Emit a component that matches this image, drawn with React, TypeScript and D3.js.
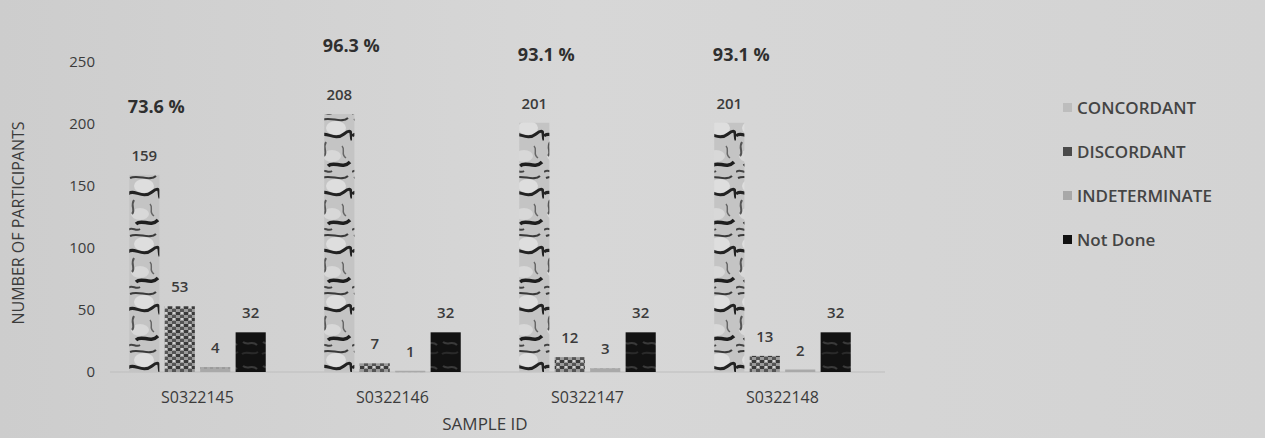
import React from "react";
import * as d3 from "d3";

const samples = ["S0322145", "S0322146", "S0322147", "S0322148"];
const seriesNames = ["CONCORDANT", "DISCORDANT", "INDETERMINATE", "Not Done"];
const concordant = [159, 208, 201, 201];
const discordant = [53, 7, 12, 13];
const indeterminate = [4, 1, 3, 2];
const notDone = [32, 32, 32, 32];
const percentLabels = ["73.6 %", "96.3 %", "93.1 %", "93.1 %"];
const yTicks = [0, 50, 100, 150, 200, 250];

const W = 1265;
const H = 438;
const FONT = "'Open Sans', Lato, sans-serif";
const TEXT = "#3b3b3b";

const fills = ["url(#pConc)", "url(#pDisc)", "url(#pInd)", "url(#pNd)"];
const legendMarks = ["#bdbdbd", "#4a4a4a", "#a8a8a8", "#111111"];

export default function App() {
  const series = [concordant, discordant, indeterminate, notDone];
  const x0 = d3.scaleBand<string>().domain(samples).range([100, 880]).paddingInner(0.3).paddingOuter(0.15);
  const x1 = d3.scaleBand<string>().domain(seriesNames).range([0, x0.bandwidth()]).paddingInner(0.15);
  const y = d3.scaleLinear().domain([0, 250]).range([372, 62]);

  return (
    <svg width={W} height={H} style={{ position: "absolute", left: 0, top: 0 }} fontFamily={FONT}>
      <defs>
        <linearGradient id="bg" x1="0" x2="1" y1="0" y2="0">
          <stop offset="0" stopColor="#cdcdcd" />
          <stop offset="0.45" stopColor="#d7d7d7" />
          <stop offset="1" stopColor="#d3d3d3" />
        </linearGradient>
        <pattern id="pConc" width="32" height="58" patternUnits="userSpaceOnUse">
          <rect width="32" height="58" fill="#c4c4c4" />
          <ellipse cx="16" cy="12" rx="10" ry="7" fill="#dedede" />
          <ellipse cx="12" cy="40" rx="9" ry="6" fill="#d8d8d8" />
          <path d="M2 4 C10 0 22 8 28 2" stroke="#3a3a3a" strokeWidth="2" fill="none" />
          <path d="M0 20 C6 14 14 26 24 18 S30 22 32 24" stroke="#222" strokeWidth="3" fill="none" />
          <path d="M6 26 C2 32 8 36 4 40" stroke="#555" strokeWidth="2" fill="none" />
          <path d="M8 50 C14 44 22 54 30 46" stroke="#1e1e1e" strokeWidth="3.5" fill="none" />
          <path d="M22 30 C26 34 20 38 26 42" stroke="#666" strokeWidth="1.5" fill="none" />
          <path d="M0 56 C4 52 8 58 12 55" stroke="#444" strokeWidth="2" fill="none" />
        </pattern>
        <pattern id="pDisc" width="8" height="6" patternUnits="userSpaceOnUse">
          <rect width="8" height="6" fill="#9a9a9a" />
          <rect x="0" y="0" width="4" height="3" fill="#3a3a3a" />
          <rect x="4" y="3" width="4" height="3" fill="#555" />
          <rect x="5" y="0" width="2" height="2" fill="#d0d0d0" />
        </pattern>
        <pattern id="pInd" width="6" height="6" patternUnits="userSpaceOnUse">
          <rect width="6" height="6" fill="#a9a9a9" />
          <rect width="3" height="3" fill="#9a9a9a" />
        </pattern>
        <pattern id="pNd" width="20" height="24" patternUnits="userSpaceOnUse">
          <rect width="20" height="24" fill="#121212" />
          <path d="M3 6 C8 10 12 4 17 9" stroke="#3a3a3a" strokeWidth="2" fill="none" />
          <path d="M2 18 C7 14 12 20 18 16" stroke="#2a2a2a" strokeWidth="2" fill="none" />
        </pattern>
      </defs>
      <rect width={W} height={H} fill="url(#bg)" />

      {yTicks.map((t) => (
        <text key={t} x={95} y={y(t)} dy="0.35em" textAnchor="end" fontSize={15} fill={TEXT}>
          {t}
        </text>
      ))}
      <text
        transform={`translate(24, ${(y(0) + y(250)) / 2 + 6}) rotate(-90)`}
        textAnchor="middle"
        fontSize={16}
        fill={TEXT}
      >
        NUMBER OF PARTICIPANTS
      </text>

      <line x1={110} x2={885} y1={y(0)} y2={y(0)} stroke="#bdbdbd" strokeWidth={1.2} />

      {samples.map((s, gi) => {
        const gx = x0(s) as number;
        const concX = gx + (x1(seriesNames[0]) as number) + x1.bandwidth() / 2;
        return (
          <g key={s}>
            {series.map((vals, si) => {
              const bx = gx + (x1(seriesNames[si]) as number);
              const v = vals[gi];
              return (
                <g key={si}>
                  <rect
                    x={bx}
                    y={y(v)}
                    width={x1.bandwidth()}
                    height={Math.max(y(0) - y(v), 1.5)}
                    fill={fills[si]}
                  />
                  <text
                    x={bx + x1.bandwidth() / 2}
                    y={y(v) - 14}
                    textAnchor="middle"
                    fontSize={15}
                    fontWeight={600}
                    fill={TEXT}
                  >
                    {v}
                  </text>
                </g>
              );
            })}
            <text
              x={concX + 12}
              y={y(concordant[gi]) - 62}
              textAnchor="middle"
              fontSize={18}
              fontWeight={700}
              fill="#2f2f2f"
            >
              {percentLabels[gi]}
            </text>
            <text
              x={gx + x0.bandwidth() / 2}
              y={403}
              textAnchor="middle"
              fontSize={16}
              fill={TEXT}
            >
              {s}
            </text>
          </g>
        );
      })}

      <text x={485} y={430} textAnchor="middle" fontSize={17} fill={TEXT}>
        SAMPLE ID
      </text>

      {seriesNames.map((n, i) => (
        <g key={n} transform={`translate(1063, ${108 + i * 44})`}>
          <rect x={0} y={-5} width={9} height={9} fill={legendMarks[i]} />
          <text x={14} y={0} dy="0.35em" fontSize={17} fontWeight={600} fill="#444">
            {n}
          </text>
        </g>
      ))}
    </svg>
  );
}
